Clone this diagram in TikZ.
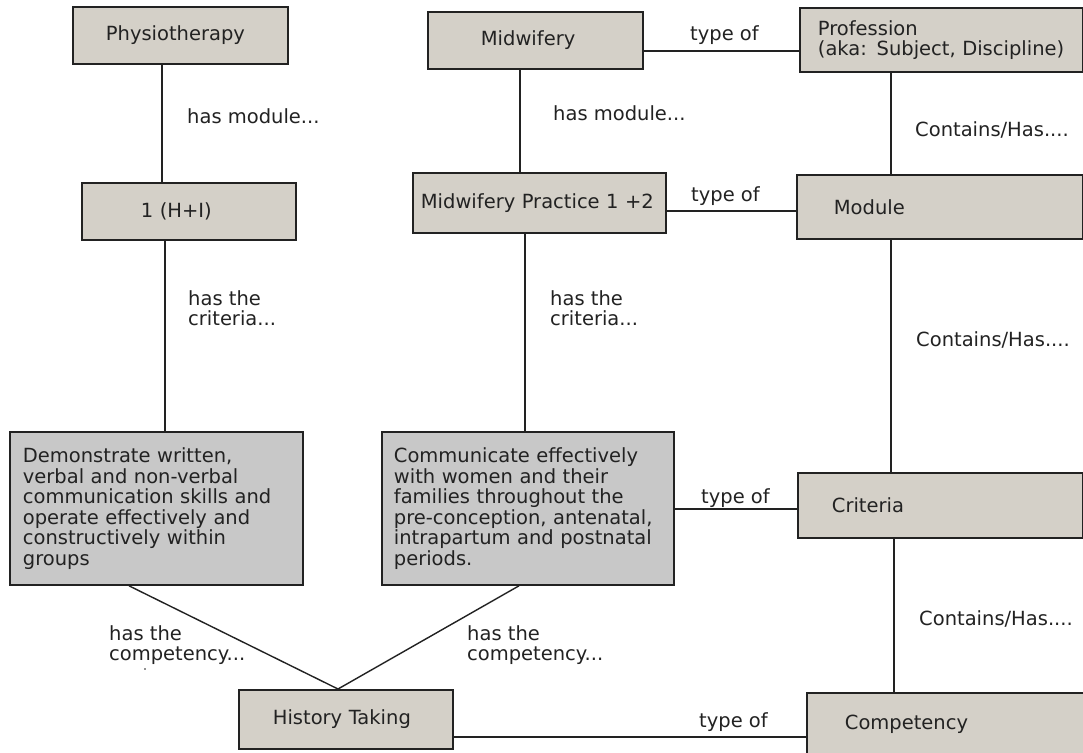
\documentclass[tikz,border=0pt]{standalone}
\usepackage{fontspec}
\setmainfont{DejaVu Sans}
\definecolor{boxgray}{HTML}{D4D0C8}
\definecolor{critgray}{HTML}{C8C8C8}
\definecolor{ink}{HTML}{222222}
\begin{document}
\begin{tikzpicture}[x=1pt,y=-1pt,
  base/.style={font=\fontsize{19.5}{20.5}\selectfont, text=ink},
  box/.style={base, draw=ink, line width=1.8pt, fill=boxgray, inner ysep=0pt,
    align=left, anchor=north west},
  critbox/.style={box, fill=critgray},
  lbl/.style={base, inner sep=0pt, anchor=west, align=left},
  link/.style={draw=ink, line width=1.4pt}]

% canvas
\fill[white] (0,0) rectangle (1083,752);
\useasboundingbox (0,0) rectangle (1083,752);
\clip (0,0) rectangle (1083,752);

% guide coordinates for connector positions
\coordinate (x129) at (129,0);
\coordinate (x162) at (162,0);
\coordinate (x165) at (165,0);
\coordinate (x338) at (338,0);
\coordinate (x519) at (519,0);
\coordinate (x520) at (520,0);
\coordinate (x525) at (525,0);
\coordinate (x891) at (891,0);
\coordinate (x894) at (894,0);
\coordinate (y51)  at (0,51);
\coordinate (y211) at (0,211);
\coordinate (y509) at (0,509);
\coordinate (y737) at (0,737);

% boxes
\node[box, minimum width=215, minimum height=57, inner xsep=33, text width=149]
  (phys) at (72,6) {Physiotherapy};
\node[box, minimum width=214, minimum height=57, inner xsep=59, text width=96]
  (hi) at (81,182) {1 (H+I)};
\node[box, minimum width=215, minimum height=57, inner xsep=53, text width=109]
  (mid) at (427,11) {Midwifery};
\node[box, minimum width=253, minimum height=60, inner xsep=8, text width=237]
  (mp) at (412,172) {Midwifery Practice 1 +2};
\node[box, minimum width=283, minimum height=64, inner xsep=18, text width=247]
  (prof) at (799,7) {Profession\\(aka: Subject, Discipline)};
\node[box, minimum width=286, minimum height=64, inner xsep=37, text width=212]
  (mod) at (796,174) {Module};
\node[critbox, minimum width=293, minimum height=153, inner xsep=13, text width=267]
  (dem) at (9,431) {Demonstrate written,\\verbal and non-verbal\\communication skills and\\operate effectively and\\constructively within\\groups};
\node[critbox, minimum width=292, minimum height=153, inner xsep=12, text width=268]
  (com) at (381,431) {Communicate effectively\\with women and their\\families throughout the\\pre-conception, antenatal,\\intrapartum and postnatal\\periods.};
\node[box, minimum width=285, minimum height=65, inner xsep=34, text width=217]
  (crit) at (797,472) {Criteria};
\node[box, minimum width=214, minimum height=59, inner xsep=34, text width=146]
  (ht) at (238,689) {History Taking};
\node[box, minimum width=277, minimum height=62, inner xsep=38, text width=201]
  (comp) at (806,692) {Competency};

% connectors
\draw[link] (phys.south -| x162) -- (hi.north -| x162);
\draw[link] (hi.south -| x165) -- (dem.north -| x165);
\draw[link] (mid.east |- y51) -- (prof.west |- y51);
\draw[link] (mid.south -| x520) -- (mp.north -| x520);
\draw[link] (mp.east |- y211) -- (mod.west |- y211);
\draw[link] (mp.south -| x525) -- (com.north -| x525);
\draw[link] (prof.south -| x891) -- (mod.north -| x891);
\draw[link] (mod.south -| x891) -- (crit.north -| x891);
\draw[link] (com.east |- y509) -- (crit.west |- y509);
\draw[link] (crit.south -| x894) -- (comp.north -| x894);
\draw[link] (dem.south -| x129) -- (ht.north -| x338);
\draw[link] (com.south -| x519) -- (ht.north -| x338);
\draw[link] (ht.east |- y737) -- (comp.west |- y737);

% connector labels
\node[lbl] (l1)  at (187,116) {has module...};
\node[lbl] (l2)  at (553,113) {has module...};
\node[lbl] (l3)  at (690,35)  {type of};
\node[lbl] (l4)  at (915,130) {Contains/Has....};
\node[lbl] (l5)  at (691,196) {type of};
\node[lbl] (l6)  at (188,308) {has the\\criteria...};
\node[lbl] (l7)  at (550,308) {has the\\criteria...};
\node[lbl] (l8)  at (916,340) {Contains/Has....};
\node[lbl] (l9)  at (701,498) {type of};
\node[lbl] (l10) at (919,619) {Contains/Has....};
\node[lbl] (l11) at (109,645) {has the\\competency...};
\node[lbl] (l12) at (467,645) {has the\\competency...};
\node[lbl] (l13) at (699,722) {type of};
\fill[ink] (145,669) circle (0.9);

\end{tikzpicture}
\end{document}
